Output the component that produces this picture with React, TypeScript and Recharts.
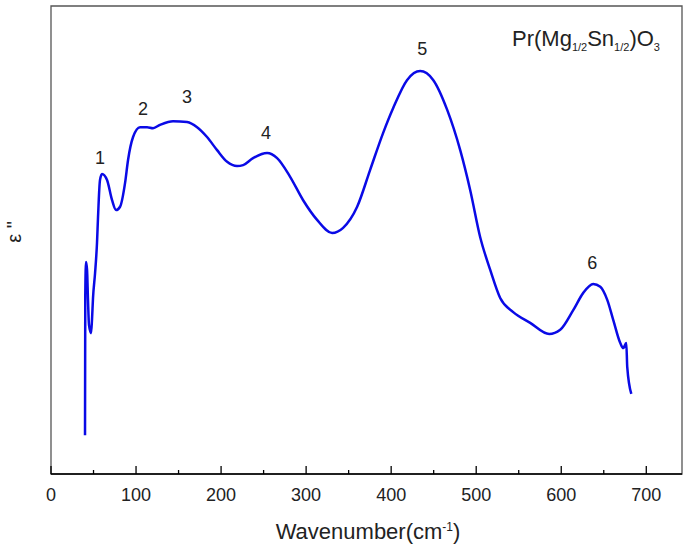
import React from 'react';
import { LineChart, Line, XAxis, YAxis, ReferenceArea, ReferenceDot } from 'recharts';

// wavenumber (cm-1) and dielectric loss (arbitrary units, 0-100)
const wavenumber = [
  40.0, 40.3, 41.2, 42.4, 43.5, 44.7, 47.1, 48.2, 49.4, 51.8, 54.1, 55.3, 57.6, 60.0,
  65.9, 71.8, 76.5, 81.2, 87.1, 90.6, 96.5, 104.7, 112.9, 120.0, 128.2, 143.5, 160.0,
  171.8, 183.5, 195.3, 207.1, 218.8, 225.9, 237.6, 254.1, 265.9, 281.2, 296.5, 312.9,
  330.6, 343.5, 360.0, 375.3, 390.6, 402.4, 418.8, 434.1, 449.4, 465.9, 481.2, 492.9,
  504.7, 516.5, 528.2, 543.5, 563.5, 585.9, 598.8, 614.1, 625.9, 637.6, 645.9, 654.1,
  661.2, 669.4, 672.9, 676.5, 677.6, 682.4,
];
const epsLoss = [
  8.3, 38.2, 45.3, 43.6, 37.2, 31.8, 30.1, 32.9, 37.6, 42.9, 49.4, 54.9, 62.8, 64.1,
  62.8, 58.5, 56.4, 57.1, 62.2, 67.1, 72.0, 74.1, 74.1, 73.9, 74.6, 75.4, 75.2,
  74.1, 72.0, 69.2, 66.7, 65.8, 66.0, 67.5, 68.6, 67.5, 63.5, 58.5, 54.3,
  51.5, 52.6, 57.1, 65.0, 72.9, 78.2, 84.2, 86.1, 84.2, 77.8, 69.2, 60.7,
  50.6, 43.6, 37.6, 34.6, 32.3, 29.9, 30.8, 35.0, 38.7, 40.6, 40.0, 37.2,
  32.9, 28.0, 26.9, 28.0, 22.9, 17.1,
];

const peakNames = ['1', '2', '3', '4', '5', '6'];
const peakX = [57.6, 108.2, 160.0, 252.9, 436.5, 636.5];
const peakY = [67.5, 78.0, 80.6, 72.9, 91.0, 45.1];

const xTicks = [0, 50, 100, 150, 200, 250, 300, 350, 400, 450, 500, 550, 600, 650, 700];
const X_MAX = 742;

const data = wavenumber.map((w, i) => ({ w, e: epsLoss[i] }));

const FONT = '"Liberation Sans", Arial, sans-serif';

const Tick = (props: any) => {
  const { x, y, payload } = props;
  const major = payload.value % 100 === 0;
  return (
    <g>
      <line x1={x} x2={x} y1={y} y2={y - (major ? 8 : 4)} stroke="#000" strokeWidth={1.3} />
      {major && (
        <text x={x} y={y + 27} textAnchor="middle" fontSize={18} fontFamily={FONT} fill="#222">
          {payload.value}
        </text>
      )}
    </g>
  );
};

const App: React.FC = () => {
  return (
    <div style={{ position: 'absolute', left: 0, top: 0, width: 685, height: 551, background: '#fff', fontFamily: FONT }}>
      <LineChart width={685} height={551} data={data} margin={{ top: 6, right: 3, left: 51, bottom: 0 }}>
        <ReferenceArea x1={0} x2={X_MAX} y1={0} y2={100} fill="none" stroke="#555" strokeWidth={1.3} />
        <XAxis
          dataKey="w"
          type="number"
          domain={[0, X_MAX]}
          ticks={xTicks}
          interval={0}
          tickSize={0}
          tickMargin={0}
          tick={<Tick />}
          height={77}
          axisLine={{ stroke: '#000', strokeWidth: 1.3 }}
          tickLine={false}
        />
        <YAxis type="number" domain={[0, 100]} width={0} tick={false} tickLine={false} axisLine={{ stroke: '#000', strokeWidth: 1.3 }} />
        <Line
          type="monotone"
          dataKey="e"
          stroke="#0a0ae6"
          strokeWidth={2.5}
          dot={false}
          activeDot={false}
          isAnimationActive={false}
        />
        {peakNames.map((n, i) => (
          <ReferenceDot
            key={n}
            x={peakX[i]}
            y={peakY[i]}
            r={1}
            fill="none"
            stroke="none"
            label={{ value: n, position: 'center', fontSize: 18, fill: '#222', fontFamily: FONT }}
          />
        ))}
      </LineChart>

      <div style={{ position: 'absolute', left: 512, top: 28, fontSize: 22, color: '#222', whiteSpace: 'nowrap', lineHeight: '22px' }}>
        Pr(Mg<sub style={{ fontSize: 11 }}>1/2</sub>Sn<sub style={{ fontSize: 11 }}>1/2</sub>)O<sub style={{ fontSize: 11 }}>3</sub>
      </div>

      <div style={{ position: 'absolute', left: 368, top: 532, transform: 'translate(-50%, -50%)', fontSize: 22, color: '#222', whiteSpace: 'nowrap' }}>
        Wavenumber(cm<sup style={{ fontSize: 12 }}>-1</sup>)
      </div>

      <div style={{ position: 'absolute', left: 14, top: 232, transform: 'translate(-50%, -50%) rotate(-90deg)', fontSize: 20, color: '#222', whiteSpace: 'nowrap' }}>
        ε "
      </div>
    </div>
  );
};

export default App;
